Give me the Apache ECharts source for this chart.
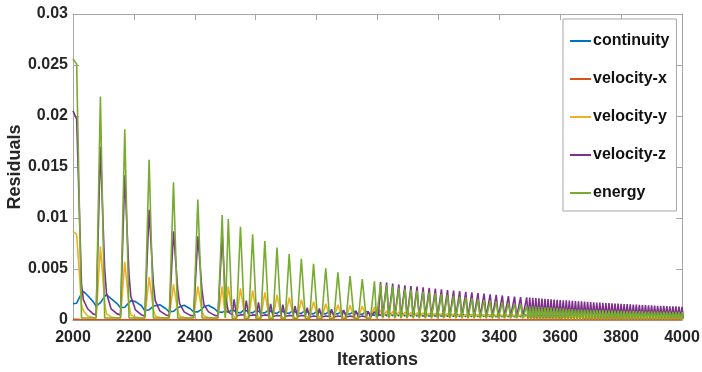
<!DOCTYPE html>
<html><head><meta charset="utf-8">
<script src="https://cdn.jsdelivr.net/npm/echarts@6/dist/echarts.min.js"></script>
<style>html,body{margin:0;padding:0;background:#fff}#c{width:702px;height:372px}</style>
</head><body><div id="c"></div>
<script>
// All residual values below are in units of 1e-3.
const seriesNames = ['continuity', 'velocity-x', 'velocity-y', 'velocity-z', 'energy'];
const xTicks = [2000, 2200, 2400, 2600, 2800, 3000, 3200, 3400, 3600, 3800, 4000];
const yTicks = [0, 0.005, 0.01, 0.015, 0.02, 0.025, 0.03];

// Region A: 80-iteration cycles (explicit points)
const iterA = [2000, 2012, 2028, 2034, 2048, 2066,
  2076, 2090, 2104, 2110, 2125, 2145,
  2156, 2170, 2184, 2190, 2205, 2225,
  2236, 2250, 2264, 2270, 2285, 2305,
  2316, 2330, 2344, 2350, 2365, 2385,
  2396, 2410, 2424, 2430, 2445, 2465,
  2476, 2490, 2500];
const energyA = [25.6, 25.1, 0.2, 0.2, 0.2, 0.2,
  0.2, 21.9, 0.2, 0.2, 0.2, 0.2,
  0.2, 18.7, 0.2, 0.2, 0.2, 0.2,
  0.2, 15.7, 0.2, 0.2, 0.2, 0.2,
  0.2, 13.5, 0.2, 0.2, 0.2, 0.2,
  0.2, 11.8, 0.2, 0.2, 0.2, 0.2,
  0.2, 10.3, 0.2];
const velZA = [20.5, 19.7, 3.5, 2.0, 1.1, 0.6,
  0.5, 17.0, 5.0, 2.6, 1.1, 0.6,
  0.5, 14.2, 4.4, 2.3, 1.0, 0.5,
  0.4, 10.8, 3.5, 1.9, 0.9, 0.5,
  0.4, 8.7, 3.0, 1.6, 0.8, 0.45,
  0.4, 8.2, 2.8, 1.5, 0.8, 0.45,
  0.4, 8.3, 2.5];
const velYA = [8.7, 8.4, 1.5, 0.9, 0.4, 0.25,
  0.2, 7.2, 1.7, 0.6, 0.3, 0.2,
  0.2, 5.7, 1.4, 0.5, 0.3, 0.2,
  0.2, 4.2, 1.0, 0.4, 0.25, 0.2,
  0.2, 3.5, 0.9, 0.4, 0.25, 0.2,
  0.2, 3.3, 0.8, 0.4, 0.25, 0.2,
  0.2, 3.3, 0.3];
const contA = [1.6, 1.65, 2.6, 2.8, 2.4, 1.8,
  1.35, 1.7, 2.3, 2.5, 2.1, 1.6,
  1.2, 1.25, 1.7, 1.9, 1.8, 1.4,
  0.9, 1.0, 1.35, 1.5, 1.5, 1.1,
  0.8, 0.85, 1.2, 1.35, 1.45, 1.1,
  0.8, 0.8, 1.1, 1.3, 1.45, 1.1,
  0.8, 0.75, 0.9];

// velocity-x stays at the floor
const iterVX = [2000, 2012, 2030, 2500, 3000, 3500, 4000];
const velXV = [0.06, 0.06, 0.03, 0.03, 0.03, 0.03, 0.03];

// Region B: 40-iteration cycles, values at offsets 0,13,19,27
const cyclesB = [2510, 2550, 2590, 2630, 2670, 2710, 2750, 2790, 2830, 2870, 2910, 2950];
const phaseB = [0, 13, 19, 27];
const energyB = [
  [9.9, 9.15, 8.4, 7.75, 7.1, 6.47, 6.0, 5.5, 5.07, 4.67, 4.3, 4.0],
  [0.15, 0.15, 0.15, 0.15, 0.15, 0.15, 0.15, 0.15, 0.15, 0.15, 0.15, 0.15],
  [0.15, 0.15, 0.15, 0.15, 0.15, 0.15, 0.15, 0.15, 0.15, 0.15, 0.15, 0.15],
  [0.15, 0.15, 0.15, 0.15, 0.15, 0.15, 0.15, 0.15, 0.15, 0.15, 0.15, 0.15]];
const velZB = [
  [0.8, 0.5, 0.5, 0.5, 0.45, 0.45, 0.45, 0.4, 0.4, 0.4, 0.4, 0.4],
  [0.5, 0.5, 0.45, 0.45, 0.4, 0.4, 0.4, 0.35, 0.35, 0.35, 0.3, 0.3],
  [2.03, 1.9, 1.73, 1.57, 1.5, 1.37, 1.2, 1.14, 1.05, 0.98, 0.92, 0.85],
  [0.4, 0.4, 0.4, 0.35, 0.35, 0.35, 0.3, 0.3, 0.3, 0.3, 0.3, 0.3]];
const velYB = [
  [3.3, 3.1, 2.9, 2.7, 2.45, 2.2, 2.0, 1.8, 1.6, 1.5, 1.44, 1.37],
  [0.6, 0.6, 0.55, 0.5, 0.5, 0.45, 0.4, 0.4, 0.35, 0.35, 0.3, 0.3],
  [0.3, 0.3, 0.3, 0.3, 0.25, 0.25, 0.25, 0.25, 0.2, 0.2, 0.2, 0.2],
  [0.2, 0.2, 0.2, 0.2, 0.2, 0.2, 0.2, 0.2, 0.2, 0.2, 0.2, 0.2]];
const contB = [
  [0.75, 0.7, 0.7, 0.7, 0.65, 0.65, 0.65, 0.6, 0.6, 0.6, 0.6, 0.55],
  [1.05, 1.05, 1.0, 1.0, 0.95, 0.95, 0.95, 0.9, 0.9, 0.9, 0.85, 0.85],
  [0.95, 0.95, 0.9, 0.9, 0.9, 0.85, 0.85, 0.85, 0.8, 0.8, 0.8, 0.75],
  [0.75, 0.75, 0.7, 0.7, 0.7, 0.65, 0.65, 0.65, 0.6, 0.6, 0.6, 0.6]];

// Region C: 20-iteration cycles, values at offsets 0,7,13
const cyclesC = [2990, 3010, 3030, 3050, 3070, 3090, 3110, 3130, 3150, 3170, 3190, 3210, 3230,
  3250, 3270, 3290, 3310, 3330, 3350, 3370, 3390, 3410, 3430, 3450, 3470];
const phaseC = [0, 7, 13];
const energyC = [
  [3.80, 3.58, 3.43, 3.30, 3.16, 3.06, 2.97, 2.89, 2.80, 2.72, 2.63, 2.54, 2.46, 2.38, 2.30, 2.22, 2.14, 2.06, 1.98, 1.90, 1.82, 1.74, 1.67, 1.60, 1.55],
  [0.15, 0.15, 0.15, 0.15, 0.15, 0.15, 0.15, 0.15, 0.15, 0.15, 0.15, 0.15, 0.15, 0.15, 0.15, 0.15, 0.15, 0.15, 0.15, 0.15, 0.15, 0.15, 0.15, 0.15, 0.15],
  [0.15, 0.15, 0.15, 0.15, 0.15, 0.15, 0.15, 0.15, 0.15, 0.15, 0.15, 0.15, 0.15, 0.15, 0.15, 0.15, 0.15, 0.15, 0.15, 0.15, 0.15, 0.15, 0.15, 0.15, 0.15]];
const velZC = [
  [0.8, 3.73, 3.66, 3.57, 3.48, 3.40, 3.33, 3.27, 3.20, 3.14, 3.07, 3.00, 2.94, 2.88, 2.82, 2.76, 2.70, 2.64, 2.58, 2.52, 2.46, 2.40, 2.35, 2.30, 2.25],
  [0.6, 0.3, 0.3, 0.3, 0.3, 0.3, 0.3, 0.3, 0.3, 0.3, 0.3, 0.3, 0.3, 0.3, 0.3, 0.3, 0.3, 0.3, 0.3, 0.3, 0.3, 0.3, 0.3, 0.3, 0.3],
  [0.4, 0.25, 0.25, 0.25, 0.25, 0.25, 0.25, 0.25, 0.25, 0.25, 0.25, 0.25, 0.25, 0.25, 0.25, 0.25, 0.25, 0.25, 0.25, 0.25, 0.25, 0.25, 0.25, 0.25, 0.25]];
const velYC = [
  [1.3, 1.0, 0.9, 0.85, 0.8, 0.78, 0.75, 0.72, 0.7, 0.68, 0.66, 0.64, 0.62, 0.6, 0.58, 0.56, 0.55, 0.54, 0.53, 0.52, 0.51, 0.5, 0.5, 0.5, 0.5],
  [0.25, 0.25, 0.25, 0.25, 0.25, 0.25, 0.25, 0.25, 0.25, 0.25, 0.25, 0.25, 0.25, 0.25, 0.25, 0.25, 0.25, 0.25, 0.25, 0.25, 0.25, 0.25, 0.25, 0.25, 0.25],
  [0.2, 0.2, 0.2, 0.2, 0.2, 0.2, 0.2, 0.2, 0.2, 0.2, 0.2, 0.2, 0.2, 0.2, 0.2, 0.2, 0.2, 0.2, 0.2, 0.2, 0.2, 0.2, 0.2, 0.2, 0.2]];
const contC = [
  [0.45, 0.42, 0.4, 0.4, 0.4, 0.38, 0.38, 0.38, 0.36, 0.36, 0.36, 0.35, 0.35, 0.35, 0.34, 0.34, 0.33, 0.33, 0.33, 0.32, 0.32, 0.31, 0.31, 0.3, 0.3],
  [0.8, 0.78, 0.76, 0.75, 0.74, 0.73, 0.72, 0.71, 0.7, 0.69, 0.68, 0.67, 0.66, 0.65, 0.65, 0.64, 0.63, 0.62, 0.62, 0.61, 0.6, 0.6, 0.59, 0.58, 0.58],
  [0.65, 0.63, 0.62, 0.61, 0.6, 0.59, 0.58, 0.57, 0.56, 0.56, 0.55, 0.54, 0.54, 0.53, 0.52, 0.52, 0.51, 0.5, 0.5, 0.49, 0.49, 0.48, 0.48, 0.47, 0.47]];

// Region D: 10-iteration cycles, values at offsets 0,5
const cyclesD = [3490, 3500, 3510, 3520, 3530, 3540, 3550, 3560, 3570, 3580, 3590, 3600, 3610,
  3620, 3630, 3640, 3650, 3660, 3670, 3680, 3690, 3700, 3710, 3720, 3730, 3740, 3750, 3760,
  3770, 3780, 3790, 3800, 3810, 3820, 3830, 3840, 3850, 3860, 3870, 3880, 3890, 3900, 3910,
  3920, 3930, 3940, 3950, 3960, 3970, 3980, 3990, 4000];
const phaseD = [0, 5];
const velZD = [
  [2.22, 2.20, 2.17, 2.15, 2.12, 2.10, 2.07, 2.05, 2.03, 2.00, 1.98, 1.96, 1.94, 1.92, 1.90, 1.88, 1.86, 1.84, 1.82, 1.80, 1.78, 1.76, 1.74, 1.72, 1.71, 1.69, 1.67, 1.65, 1.63, 1.62, 1.60, 1.58, 1.57, 1.55, 1.53, 1.52, 1.50, 1.49, 1.47, 1.46, 1.44, 1.43, 1.42, 1.40, 1.39, 1.38, 1.36, 1.35, 1.34, 1.33, 1.32, 1.30],
  [0.15, 0.15, 0.15, 0.15, 0.15, 0.15, 0.15, 0.15, 0.15, 0.15, 0.15, 0.15, 0.15, 0.15, 0.15, 0.15, 0.15, 0.15, 0.15, 0.15, 0.15, 0.15, 0.15, 0.15, 0.15, 0.15, 0.15, 0.15, 0.15, 0.15, 0.15, 0.15, 0.15, 0.15, 0.15, 0.15, 0.15, 0.15, 0.15, 0.15, 0.15, 0.15, 0.15, 0.15, 0.15, 0.15, 0.15, 0.15, 0.15, 0.15, 0.15, 0.15]];
const energyD = [
  [1.37, 1.35, 1.33, 1.31, 1.29, 1.27, 1.25, 1.23, 1.21, 1.19, 1.17, 1.15, 1.13, 1.11, 1.09, 1.07, 1.05, 1.04, 1.03, 1.02, 1.01, 1.00, 0.99, 0.98, 0.97, 0.96, 0.95, 0.94, 0.93, 0.92, 0.91, 0.90, 0.90, 0.89, 0.88, 0.88, 0.87, 0.86, 0.86, 0.85, 0.84, 0.84, 0.83, 0.83, 0.82, 0.82, 0.81, 0.81, 0.80, 0.80, 0.80, 0.80],
  [0.1, 0.1, 0.1, 0.1, 0.1, 0.1, 0.1, 0.1, 0.1, 0.1, 0.1, 0.1, 0.1, 0.1, 0.1, 0.1, 0.1, 0.1, 0.1, 0.1, 0.1, 0.1, 0.1, 0.1, 0.1, 0.1, 0.1, 0.1, 0.1, 0.1, 0.1, 0.1, 0.1, 0.1, 0.1, 0.1, 0.1, 0.1, 0.1, 0.1, 0.1, 0.1, 0.1, 0.1, 0.1, 0.1, 0.1, 0.1, 0.1, 0.1, 0.1, 0.1]];
const velYD = [
  [0.4, 0.4, 0.4, 0.4, 0.4, 0.39, 0.39, 0.39, 0.38, 0.38, 0.38, 0.37, 0.37, 0.37, 0.36, 0.36, 0.36, 0.35, 0.35, 0.35, 0.35, 0.34, 0.34, 0.34, 0.34, 0.33, 0.33, 0.33, 0.33, 0.33, 0.32, 0.32, 0.32, 0.32, 0.32, 0.31, 0.31, 0.31, 0.31, 0.31, 0.31, 0.3, 0.3, 0.3, 0.3, 0.3, 0.3, 0.3, 0.3, 0.3, 0.3, 0.3],
  [0.1, 0.1, 0.1, 0.1, 0.1, 0.1, 0.1, 0.1, 0.1, 0.1, 0.1, 0.1, 0.1, 0.1, 0.1, 0.1, 0.1, 0.1, 0.1, 0.1, 0.1, 0.1, 0.1, 0.1, 0.1, 0.1, 0.1, 0.1, 0.1, 0.1, 0.1, 0.1, 0.1, 0.1, 0.1, 0.1, 0.1, 0.1, 0.1, 0.1, 0.1, 0.1, 0.1, 0.1, 0.1, 0.1, 0.1, 0.1, 0.1, 0.1, 0.1, 0.1]];
const contD = [
  [0.45, 0.45, 0.45, 0.44, 0.44, 0.44, 0.43, 0.43, 0.43, 0.42, 0.42, 0.42, 0.41, 0.41, 0.41, 0.4, 0.4, 0.4, 0.4, 0.39, 0.39, 0.39, 0.39, 0.38, 0.38, 0.38, 0.38, 0.37, 0.37, 0.37, 0.37, 0.37, 0.36, 0.36, 0.36, 0.36, 0.36, 0.35, 0.35, 0.35, 0.35, 0.35, 0.35, 0.34, 0.34, 0.34, 0.34, 0.34, 0.34, 0.34, 0.33, 0.33],
  [0.2, 0.2, 0.2, 0.2, 0.2, 0.2, 0.2, 0.2, 0.2, 0.2, 0.2, 0.2, 0.2, 0.2, 0.2, 0.2, 0.2, 0.2, 0.2, 0.2, 0.2, 0.2, 0.2, 0.2, 0.2, 0.2, 0.2, 0.2, 0.2, 0.2, 0.2, 0.2, 0.2, 0.2, 0.2, 0.2, 0.2, 0.2, 0.2, 0.2, 0.2, 0.2, 0.2, 0.2, 0.2, 0.2, 0.2, 0.2, 0.2, 0.2, 0.2, 0.2]];

function explicitPts(xs, vals) { return xs.map((x, i) => [x, vals[i] / 1000]); }
function regionPts(cycles, offsets, cols) {
  const out = [];
  cycles.forEach((p, i) => offsets.forEach((o, j) => out.push([p + o, cols[j][i] / 1000])));
  return out;
}
function full(a, b, c, d) {
  return explicitPts(iterA, a).concat(regionPts(cyclesB, phaseB, b), regionPts(cyclesC, phaseC, c), regionPts(cyclesD, phaseD, d));
}

const colors = ['#0072BD', '#D95319', '#EDB120', '#7E2F8E', '#77AC30'];
const dataSets = [
  full(contA, contB, contC, contD),
  explicitPts(iterVX, velXV),
  full(velYA, velYB, velYC, velYD),
  full(velZA, velZB, velZC, velZD),
  full(energyA, energyB, energyC, energyD)
];

const FONT = 'Liberation Sans, Arial, sans-serif';
const axisGrey = '#a6a6a6';
const chart = echarts.init(document.getElementById('c'), null, {renderer: 'canvas'});
const baseX = {type: 'value', min: xTicks[0], max: xTicks[xTicks.length - 1], interval: xTicks[1] - xTicks[0],
  splitLine: {show: false}, axisLine: {show: true, onZero: false, lineStyle: {color: axisGrey, width: 1}},
  axisTick: {show: true, inside: true, length: 6, lineStyle: {color: axisGrey}}};
const baseY = {type: 'value', min: yTicks[0], max: yTicks[yTicks.length - 1], interval: yTicks[1] - yTicks[0],
  splitLine: {show: false}, axisLine: {show: true, onZero: false, lineStyle: {color: axisGrey, width: 1}},
  axisTick: {show: true, inside: true, length: 6, lineStyle: {color: axisGrey}}};

chart.setOption({
  animation: false,
  backgroundColor: '#fff',
  grid: {left: 73, right: 20, top: 14, bottom: 52, containLabel: false, outerBoundsMode: 'none'},
  xAxis: [
    Object.assign({}, baseX, {position: 'bottom',
      axisLabel: {show: true, fontFamily: FONT, fontWeight: 'bold', fontSize: 16, color: '#262626', margin: 10,
        formatter: v => String(v)},
      name: 'Iterations', nameLocation: 'middle', nameGap: 31, nameMoveOverlap: false,
      nameTextStyle: {fontFamily: FONT, fontWeight: 'bold', fontSize: 18, color: '#262626'}}),
    Object.assign({}, baseX, {position: 'top', axisLabel: {show: false}})
  ],
  yAxis: [
    Object.assign({}, baseY, {position: 'left',
      axisLabel: {show: true, fontFamily: FONT, fontWeight: 'bold', fontSize: 16, color: '#262626', margin: 5},
      name: 'Residuals', nameLocation: 'middle', nameGap: 49, nameRotate: 90, nameMoveOverlap: false,
      nameTextStyle: {fontFamily: FONT, fontWeight: 'bold', fontSize: 18, color: '#262626'}}),
    Object.assign({}, baseY, {position: 'right', axisLabel: {show: false}})
  ],
  legend: {
    orient: 'vertical', left: 563, top: 19,
    padding: [14, 7, 10, 7], itemGap: 22, itemWidth: 21, itemHeight: 2,
    backgroundColor: '#fff', borderColor: '#a6a6a6', borderWidth: 1,
    icon: 'rect',
    textStyle: {fontFamily: FONT, fontWeight: 'bold', fontSize: 16, color: '#111', lineHeight: 16, padding: [0, 0, 0, -3]},
    data: seriesNames
  },
  series: seriesNames.map((n, i) => ({
    name: n, type: 'line', data: dataSets[i], showSymbol: false, symbol: 'none',
    lineStyle: {width: 1.6, color: colors[i]}, itemStyle: {color: colors[i]},
    emphasis: {disabled: true}
  }))
});
</script></body></html>
